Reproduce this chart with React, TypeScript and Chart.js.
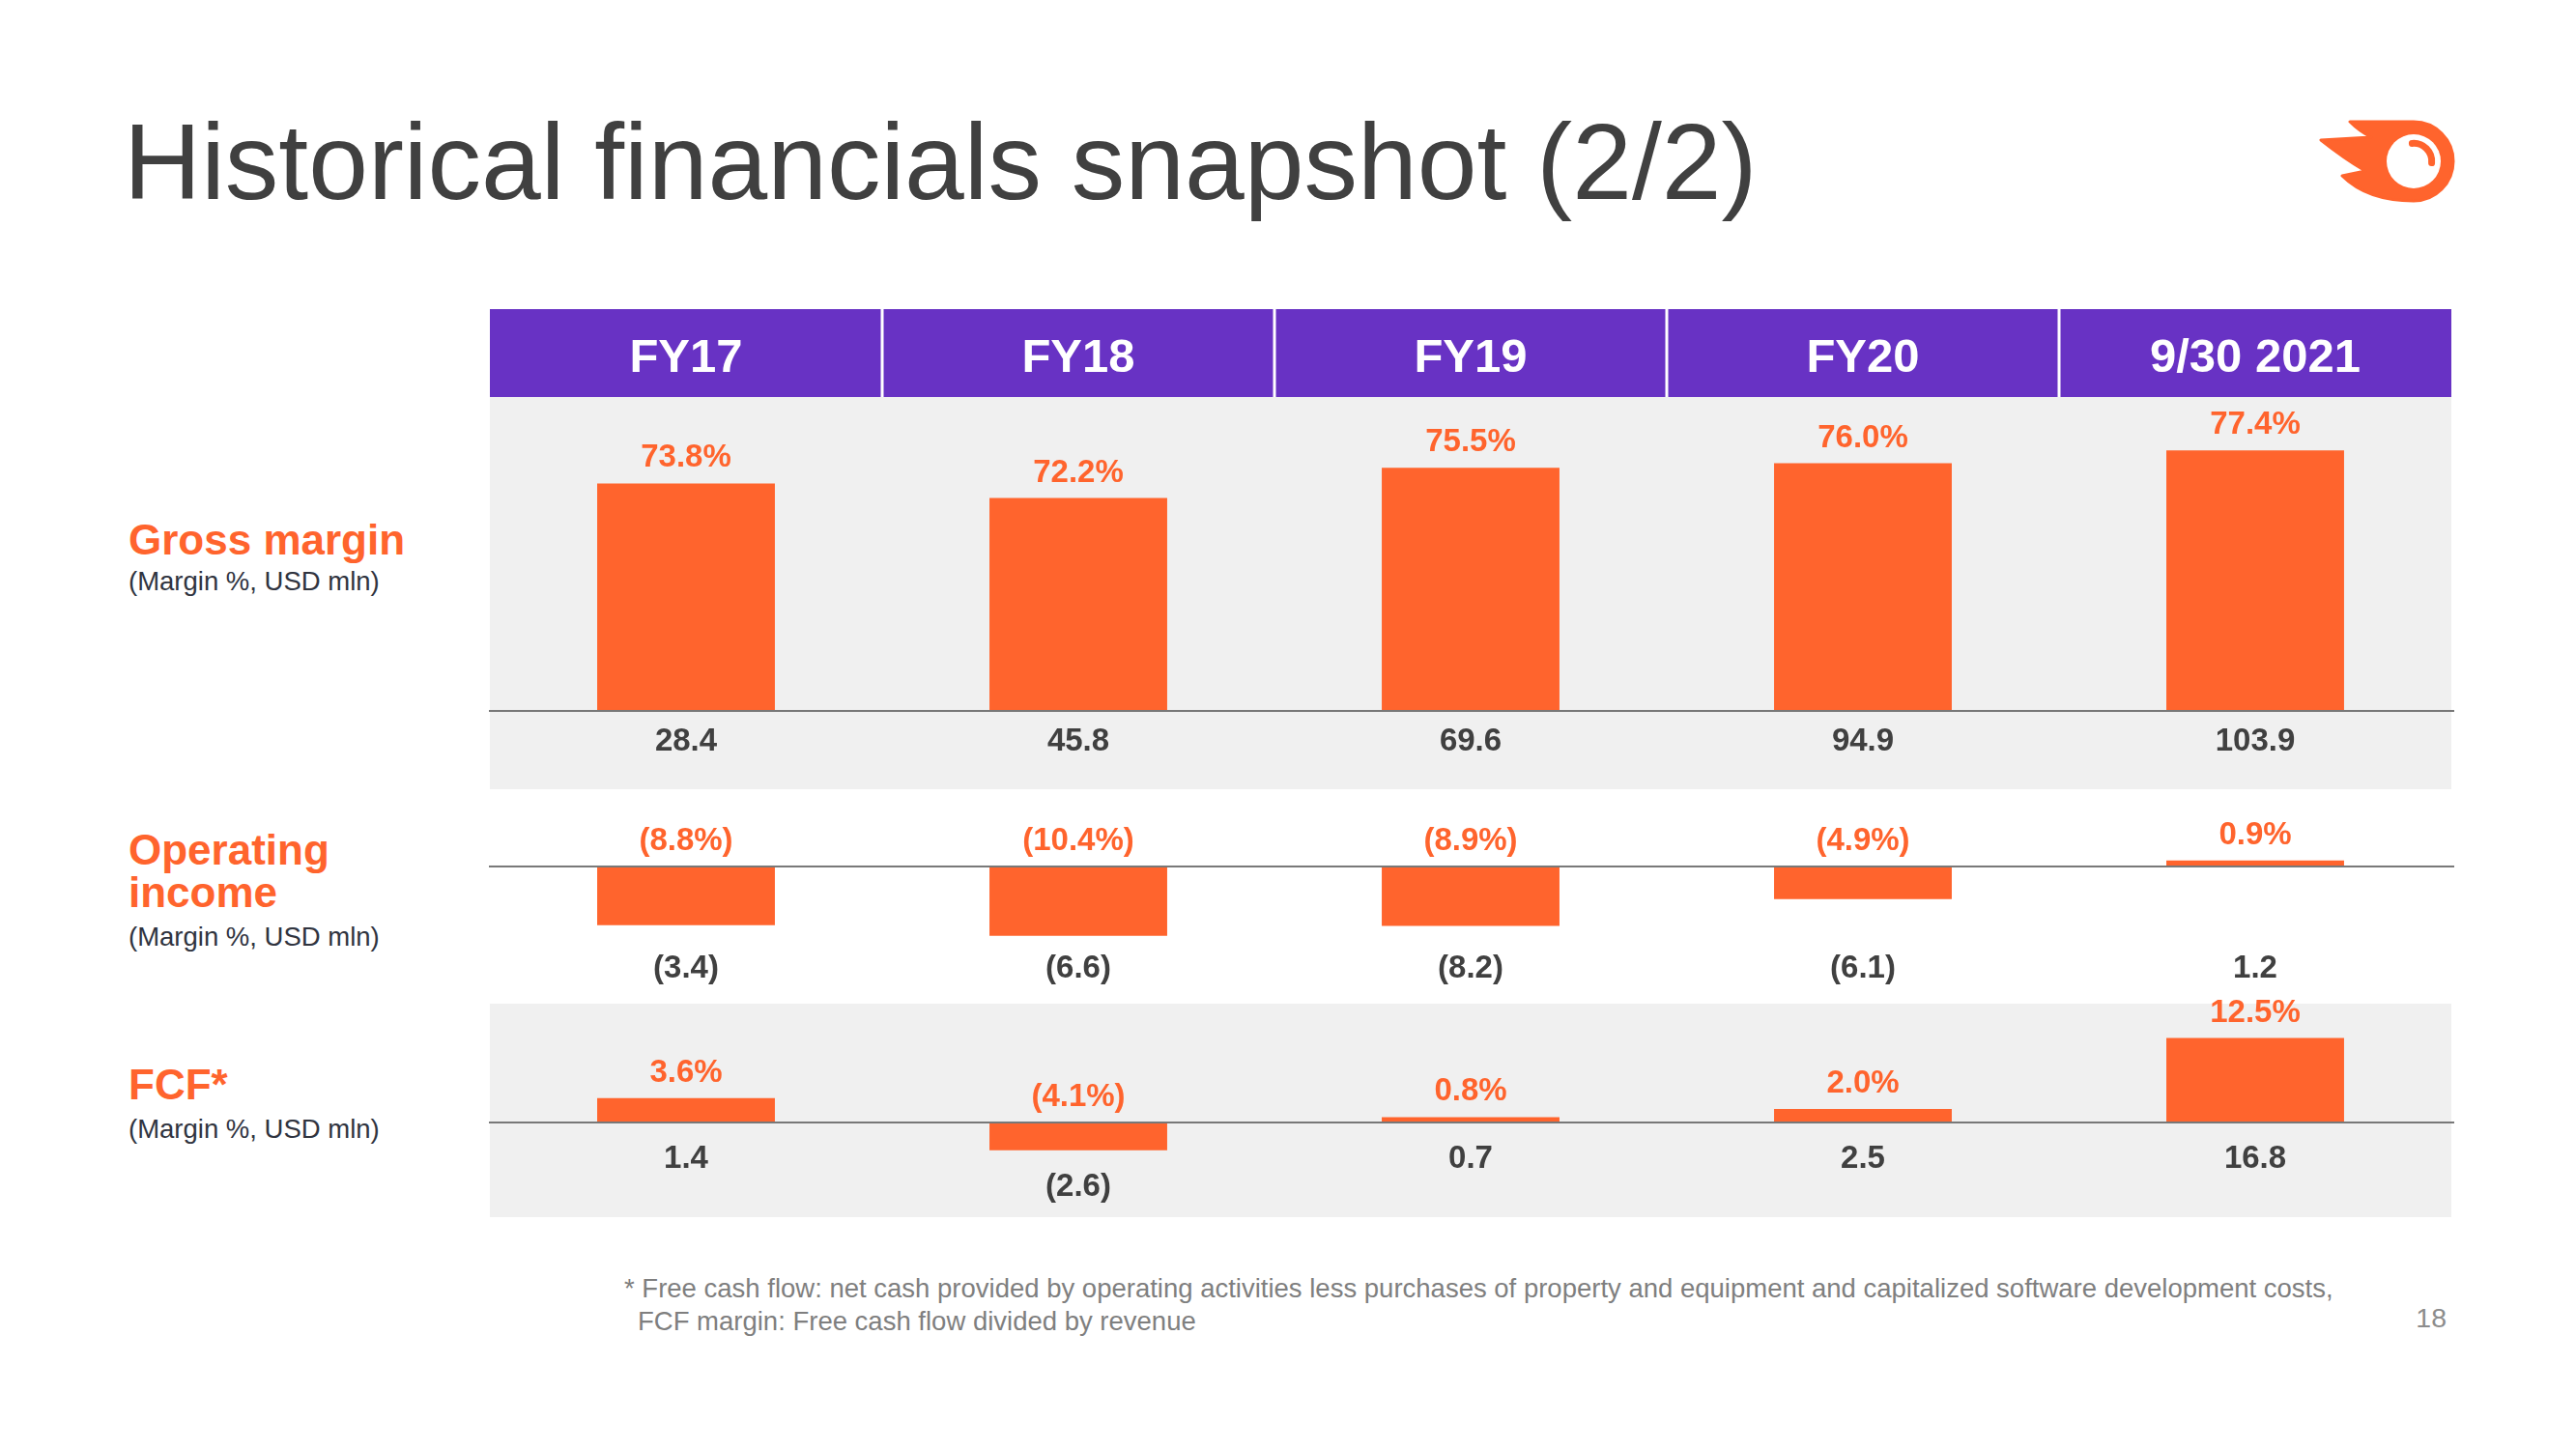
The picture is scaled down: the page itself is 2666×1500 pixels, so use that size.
import React, { useEffect, useRef } from 'react';
import { Chart, registerables } from 'chart.js';

Chart.register(...registerables);

// ---------- data ----------
const categories = ['FY17', 'FY18', 'FY19', 'FY20', '9/30 2021'];
const grossMarginPct = [73.8, 72.2, 75.5, 76.0, 77.4];
const grossProfit = [28.4, 45.8, 69.6, 94.9, 103.9];
const opMarginPct = [-8.8, -10.4, -8.9, -4.9, 0.9];
const opIncome = [-3.4, -6.6, -8.2, -6.1, 1.2];
const fcfMarginPct = [3.6, -4.1, 0.8, 2.0, 12.5];
const fcfValue = [1.4, -2.6, 0.7, 2.5, 16.8];

// ---------- style ----------
const FONT = '"Liberation Sans", Arial, Helvetica, sans-serif';
const ORANGE = '#FF642D';
const PURPLE = '#6832C4';
const PANEL = '#F0F0F0';
const AXIS_LINE = '#787878';
const DARK = '#404040';

// scale design (value axis window for each row)
const GM_BASE = 49;
const GM_MIN = 40.47;
const GM_MAX = 83.21;
const OI_MIN = -20.58;
const OI_MAX = 11.59;
const FCF_MIN = -14.0;
const FCF_MAX = 17.57;

type Row = {
  axis: string;
  base: number;
  pct: number[];
  val: number[];
  panel: boolean;
  valueMode: 'axis' | 'below';
  valueOffset: number;
};

const ROWS: Row[] = [
  { axis: 'yGM', base: GM_BASE, pct: grossMarginPct, val: grossProfit, panel: true, valueMode: 'axis', valueOffset: 32 },
  { axis: 'yOI', base: 0, pct: opMarginPct, val: opIncome, panel: false, valueMode: 'axis', valueOffset: 106 },
  { axis: 'yFCF', base: 0, pct: fcfMarginPct, val: fcfValue, panel: true, valueMode: 'below', valueOffset: 38 },
];

const fmtPct = (v: number) => (v < 0 ? `(${Math.abs(v).toFixed(1)}%)` : `${v.toFixed(1)}%`);
const fmtVal = (v: number) => (v < 0 ? `(${Math.abs(v).toFixed(1)})` : v.toFixed(1));

const tablePlugin = {
  id: 'tablePlugin',
  beforeDraw(chart: any) {
    const { ctx, chartArea, scales } = chart;
    const x = scales.x;
    const w = chartArea.right - chartArea.left;
    ctx.save();
    ctx.fillStyle = PURPLE;
    ctx.fillRect(chartArea.left, x.top, w, x.bottom - x.top);
    ctx.fillStyle = '#FFFFFF';
    for (let i = 0; i < categories.length - 1; i++) {
      const b = (x.getPixelForValue(i) + x.getPixelForValue(i + 1)) / 2;
      ctx.fillRect(b - 1.5, x.top, 3, x.bottom - x.top);
    }
    for (const row of ROWS) {
      if (!row.panel) continue;
      const s = scales[row.axis];
      ctx.fillStyle = PANEL;
      ctx.fillRect(chartArea.left, s.top, w, s.bottom - s.top);
    }
    ctx.restore();
  },
  afterDatasetsDraw(chart: any) {
    const { ctx, chartArea, scales } = chart;
    ctx.save();
    ROWS.forEach((row, di) => {
      const s = scales[row.axis];
      const zero = s.getPixelForValue(row.base);
      ctx.fillStyle = AXIS_LINE;
      ctx.fillRect(chartArea.left - 1, zero - 1, chartArea.right - chartArea.left + 4, 2);
      const meta = chart.getDatasetMeta(di);
      meta.data.forEach((el: any, i: number) => {
        const p = el.getProps(['x', 'y', 'base'], true);
        const upper = Math.min(p.y, p.base);
        const lower = Math.max(p.y, p.base);
        ctx.textAlign = 'center';
        ctx.textBaseline = 'middle';
        ctx.font = `bold 33px ${FONT}`;
        ctx.fillStyle = ORANGE;
        ctx.fillText(fmtPct(row.pct[i]), p.x, upper - 26);
        ctx.fillStyle = DARK;
        const vy = row.valueMode === 'below' ? lower + row.valueOffset : zero + row.valueOffset;
        ctx.fillText(fmtVal(row.val[i]), p.x, vy);
      });
    });
    ctx.restore();
  },
};

function T(props: { x?: number; right?: number; y: number; size: number; weight?: number; color: string; children: React.ReactNode }) {
  const { x, right, y, size, weight = 400, color, children } = props;
  const style: React.CSSProperties = {
    position: 'absolute',
    top: y - 0.8465 * size,
    fontSize: size,
    lineHeight: `${size}px`,
    fontWeight: weight,
    color,
    whiteSpace: 'pre',
  };
  if (right !== undefined) style.right = right;
  else style.left = x;
  return <div style={style}>{children}</div>;
}

function Logo() {
  return (
    <svg style={{ position: 'absolute', left: 2400, top: 124 }} width={142} height={88} viewBox="0 0 142 88">
      <path
        d="M 32 2 L 98 2 A 41 41 0 0 1 139 43 A 41 41 0 0 1 98 84 Q 50 84 24 58 L 48 53 Q 26 40 2 21 L 54 18 Q 42 12 32 2 Z"
        fill={ORANGE}
        stroke={ORANGE}
        strokeWidth={3}
        strokeLinejoin="round"
      />
      <circle cx={98} cy={43} r={28} fill="#FFFFFF" />
      <path d="M 96.4 24.4 A 18.7 18.7 0 0 1 116.6 44.6" fill="none" stroke={ORANGE} strokeWidth={7} strokeLinecap="round" />
    </svg>
  );
}

export default function App() {
  const ref = useRef<HTMLCanvasElement>(null);

  useEffect(() => {
    if (!ref.current) return;
    Chart.defaults.font.family = FONT;
    const commonDs = {
      backgroundColor: ORANGE,
      borderWidth: 0,
      grouped: false,
      barPercentage: 0.453,
      categoryPercentage: 1,
    };
    const chart = new Chart(ref.current, {
      type: 'bar',
      data: {
        labels: categories,
        datasets: [
          { ...commonDs, label: 'Gross margin', data: grossMarginPct, yAxisID: 'yGM', base: GM_BASE } as any,
          { ...commonDs, label: 'Operating income', data: opMarginPct, yAxisID: 'yOI' } as any,
          { ...commonDs, label: 'FCF', data: fcfMarginPct, yAxisID: 'yFCF' } as any,
        ],
      },
      options: {
        responsive: false,
        maintainAspectRatio: false,
        animation: false,
        devicePixelRatio: 1,
        layout: { padding: { left: 7, right: 8, top: 0, bottom: 5 } },
        plugins: { legend: { display: false }, tooltip: { enabled: false } },
        scales: {
          x: {
            type: 'category',
            position: 'top',
            offset: true,
            grid: { display: false, drawTicks: false },
            border: { display: false },
            ticks: {
              color: '#FFFFFF',
              font: { family: FONT, size: 49, weight: 'bold' },
              padding: 10,
              maxRotation: 0,
              autoSkip: false,
            },
            afterFit: (s: any) => {
              s.height = 91;
            },
          },
          yGM: { type: 'linear', display: false, position: 'left', stack: 'rows', stackWeight: 406, weight: 3, min: GM_MIN, max: GM_MAX },
          yOI: { type: 'linear', display: false, position: 'left', stack: 'rows', stackWeight: 222, weight: 2, min: OI_MIN, max: OI_MAX },
          yFCF: { type: 'linear', display: false, position: 'left', stack: 'rows', stackWeight: 221, weight: 1, min: FCF_MIN, max: FCF_MAX },
        } as any,
      },
      plugins: [tablePlugin],
    });
    return () => chart.destroy();
  }, []);

  const sub = '#30343F';
  return (
    <div
      style={{
        position: 'absolute',
        left: 0,
        top: 0,
        width: 2666,
        height: 1500,
        background: '#FFFFFF',
        overflow: 'hidden',
        fontFamily: FONT,
      }}
    >
      <T x={128} y={207} size={111} color="#404040">Historical financials snapshot (2/2)</T>
      <Logo />

      <T x={133} y={574} size={44} weight={700} color={ORANGE}>Gross margin</T>
      <T x={133} y={611} size={27.5} color={sub}>(Margin %, USD mln)</T>

      <T x={133} y={895} size={44} weight={700} color={ORANGE}>Operating</T>
      <T x={133} y={939} size={44} weight={700} color={ORANGE}>income</T>
      <T x={133} y={979} size={27.5} color={sub}>(Margin %, USD mln)</T>

      <T x={133} y={1138} size={44} weight={700} color={ORANGE}>FCF*</T>
      <T x={133} y={1178} size={27.5} color={sub}>(Margin %, USD mln)</T>

      <canvas
        ref={ref}
        width={2045}
        height={945}
        style={{ position: 'absolute', left: 500, top: 320, width: 2045, height: 945 }}
      />

      <T x={646} y={1343} size={27.5} color="#7F7F7F">
        * Free cash flow: net cash provided by operating activities less purchases of property and equipment and capitalized software development costs,
      </T>
      <T x={660} y={1377} size={27.5} color="#7F7F7F">FCF margin: Free cash flow divided by revenue</T>
      <T right={134} y={1374} size={28.5} color="#8C8C8C">18</T>
    </div>
  );
}
